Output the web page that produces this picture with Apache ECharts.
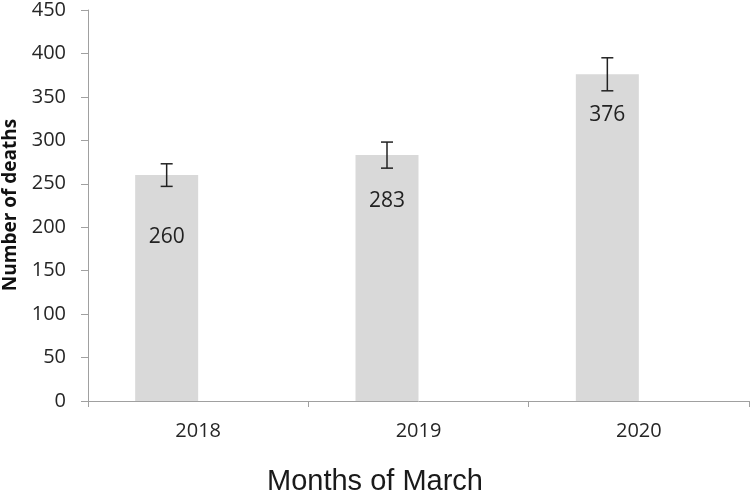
<!DOCTYPE html>
<html>
<head>
<meta charset="utf-8">
<script src="https://cdn.jsdelivr.net/npm/echarts@6/dist/echarts.min.js"></script>
<style>html,body{margin:0;padding:0;background:#fff;}#c{width:750px;height:493px;}</style>
</head>
<body>
<div id="c"></div>
<script>
const categories = ['2018', '2019', '2020'];
const deaths = [260, 283, 376];
const errLow = [247, 268, 357];
const errHigh = [273, 298, 395];
const yTicks = { min: 0, max: 450, interval: 50 };

const BAR_W = 63;
const labelDist = [51, 35, 30];

const chart = echarts.init(document.getElementById('c'), null, { renderer: 'canvas' });
const font = 'Open Sans';
chart.setOption({
  animation: false,
  backgroundColor: '#fff',
  grid: { left: 88, right: 1, top: 8, bottom: 92, containLabel: false },
  xAxis: {
    type: 'category',
    data: categories,
    axisLine: { lineStyle: { color: '#a0a0a0', width: 1 } },
    axisTick: { show: true, length: 6, lineStyle: { color: '#a0a0a0' } },
    axisLabel: { color: '#262626', fontFamily: font, fontSize: 20, margin: 20 }
  },
  yAxis: {
    type: 'value',
    min: yTicks.min, max: yTicks.max, interval: yTicks.interval,
    splitLine: { show: false },
    axisLine: { show: true, lineStyle: { color: '#a0a0a0', width: 1 } },
    axisTick: { show: true, length: 7, lineStyle: { color: '#a0a0a0' } },
    axisLabel: { color: '#262626', fontFamily: font, fontSize: 20, margin: 22 }
  },
  graphic: [
    {
      type: 'text', x: 375, y: 482,
      style: { text: 'Months of March', font: '29px "Liberation Sans", Arial, sans-serif', fill: '#1a1a1a', align: 'center', verticalAlign: 'middle' }
    },
    {
      type: 'text', x: 11, y: 205, rotation: Math.PI / 2,
      style: { text: 'Number of deaths', font: 'bold 19px "Open Sans", sans-serif', fill: '#111', align: 'center', verticalAlign: 'middle' }
    }
  ],
  series: [
    {
      type: 'bar',
      data: deaths.map((v, i) => ({
        value: v,
        label: { show: true, position: 'insideTop', distance: labelDist[i] }
      })),
      barWidth: BAR_W,
      barGap: '0%',
      itemStyle: { color: '#d9d9d9' },
      label: { color: '#222', fontFamily: font, fontSize: 21 }
    },
    {
      type: 'bar',
      data: deaths.map(() => '-'),
      barWidth: BAR_W,
      barGap: '0%'
    },
    {
      type: 'custom',
      data: categories.map((c, i) => [i, errLow[i], errHigh[i]]),
      renderItem: function (params, api) {
        const i = api.value(0);
        const lo = api.coord([i, api.value(1)]);
        const hi = api.coord([i, api.value(2)]);
        const x = lo[0] - BAR_W / 2;
        const cap = 6;
        const st = { stroke: '#222', lineWidth: 1.5 };
        return {
          type: 'group',
          children: [
            { type: 'line', shape: { x1: x, y1: hi[1], x2: x, y2: lo[1] }, style: st },
            { type: 'line', shape: { x1: x - cap, y1: hi[1], x2: x + cap, y2: hi[1] }, style: st },
            { type: 'line', shape: { x1: x - cap, y1: lo[1], x2: x + cap, y2: lo[1] }, style: st }
          ]
        };
      },
      z: 5
    }
  ]
});
</script>
</body>
</html>
